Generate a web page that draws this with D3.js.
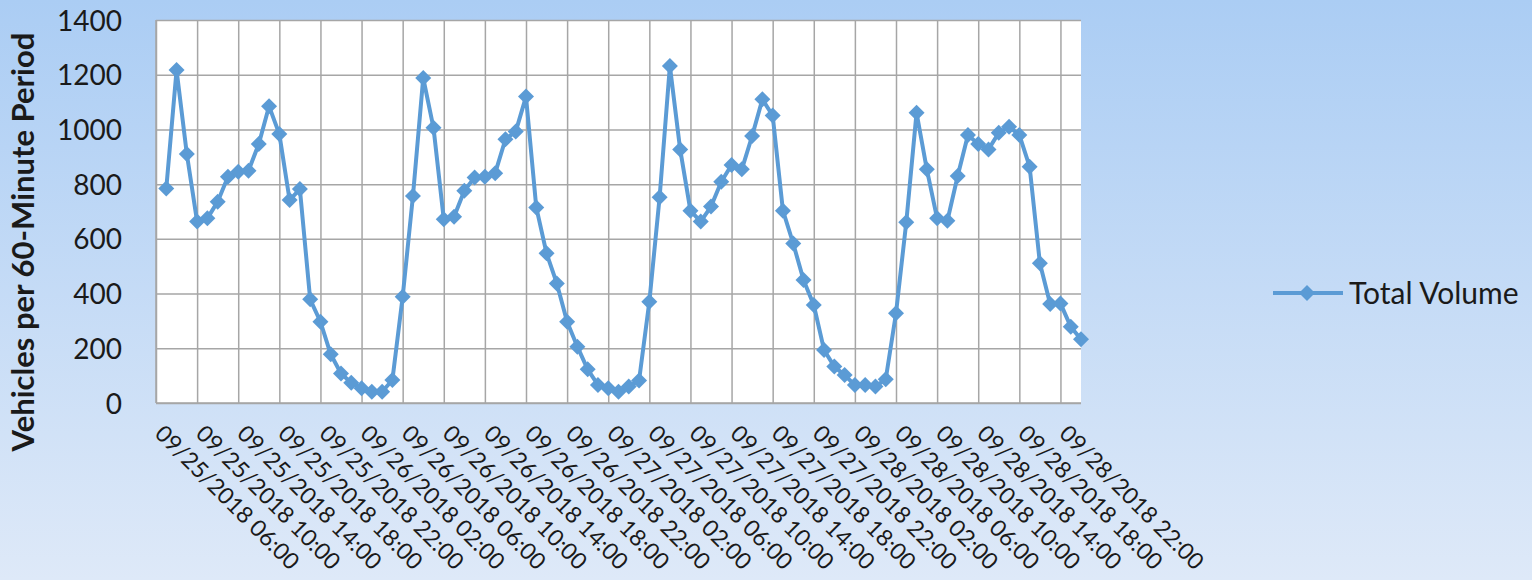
<!DOCTYPE html>
<html>
<head>
<meta charset="utf-8">
<script src="https://cdn.jsdelivr.net/npm/d3@7"></script>
<style>
  html, body { margin: 0; padding: 0; }
  body { width: 1532px; height: 580px; overflow: hidden; }
  svg { display: block; }
  text { font-family: Lato, "Open Sans", sans-serif; fill: #1a1a1a; }
</style>
</head>
<body>
<svg id="chart" width="1532" height="580"></svg>
<script>
// ---- data ----
const seriesName = "Total Volume";
const yTitle = "Vehicles per 60-Minute Period";
// hourly categories starting 09/25/2018 06:00 (91 slots; first slot has no reading)
const startHour = new Date(2018, 8, 25, 6);
const categories = d3.range(91).map(k => d3.timeHour.offset(startHour, k));
const values = [null,
  784, 1217, 910, 663, 675, 736, 827, 845, 849, 947,
  1085, 983, 742, 782, 379, 297, 178, 108, 74, 54,
  41, 41, 84, 388, 757, 1188, 1006, 672, 681, 776,
  824, 827, 840, 964, 992, 1120, 715, 547, 437, 297,
  206, 123, 66, 54, 41, 60, 82, 370, 752, 1232,
  927, 703, 663, 718, 809, 870, 854, 976, 1110, 1051,
  703, 583, 450, 358, 194, 133, 102, 66, 66, 60,
  87, 328, 661, 1061, 854, 675, 666, 830, 980, 947,
  927, 988, 1010, 980, 864, 511, 362, 364, 279, 233];
const tickLabels = [
  "09/25/2018 06:00", "09/25/2018 10:00", "09/25/2018 14:00", "09/25/2018 18:00",
  "09/25/2018 22:00", "09/26/2018 02:00", "09/26/2018 06:00", "09/26/2018 10:00",
  "09/26/2018 14:00", "09/26/2018 18:00", "09/26/2018 22:00", "09/27/2018 02:00",
  "09/27/2018 06:00", "09/27/2018 10:00", "09/27/2018 14:00", "09/27/2018 18:00",
  "09/27/2018 22:00", "09/28/2018 02:00", "09/28/2018 06:00", "09/28/2018 10:00",
  "09/28/2018 14:00", "09/28/2018 18:00", "09/28/2018 22:00"];
const yTicks = [0, 200, 400, 600, 800, 1000, 1200, 1400];
const labelEvery = 4;

// ---- layout ----
const W = 1532, H = 580;
const plot = { left: 156, right: 1081, top: 20, bottom: 403 };
const lineColor = "#5b9bd5";
const gridColor = "#a6a6a6";

const svg = d3.select("#chart");

// background gradient
const defs = svg.append("defs");
const grad = defs.append("linearGradient").attr("id", "bg")
  .attr("x1", 0).attr("y1", 0).attr("x2", 0).attr("y2", 1);
grad.append("stop").attr("offset", "0%").attr("stop-color", "#abcdf4");
grad.append("stop").attr("offset", "100%").attr("stop-color", "#dee9f8");
svg.append("rect").attr("width", W).attr("height", H).attr("fill", "url(#bg)");

const x = d3.scalePoint()
  .domain(d3.range(categories.length))
  .range([plot.left, plot.right]);
const y = d3.scaleLinear().domain([0, 1400]).range([plot.bottom, plot.top]);

// plot area
svg.append("rect")
  .attr("x", plot.left).attr("y", plot.top)
  .attr("width", plot.right - plot.left).attr("height", plot.bottom - plot.top)
  .attr("fill", "#ffffff");

// horizontal gridlines + y axis labels
const yAxis = d3.axisLeft(y).tickValues(yTicks).tickFormat(d3.format("d"))
  .tickSize(-(plot.right - plot.left)).tickPadding(34);
const gy = svg.append("g").attr("transform", `translate(${plot.left},0)`).call(yAxis);
gy.select(".domain").remove();
gy.selectAll(".tick line").attr("stroke", gridColor).attr("stroke-width", 1.5);
gy.selectAll(".tick text")
  .attr("font-size", 28).attr("fill", "#1a1a1a")
  .attr("font-family", "Lato, 'Open Sans', sans-serif")
  .attr("dy", "0.36em");

// vertical gridlines at every 4th category + labels
const labelIdx = d3.range(0, categories.length, labelEvery).slice(0, tickLabels.length);
const xAxis = d3.axisBottom(x).tickValues(labelIdx)
  .tickSize(-(plot.bottom - plot.top)).tickFormat((d, i) => tickLabels[i]);
const gx = svg.append("g").attr("transform", `translate(0,${plot.bottom})`).call(xAxis);
gx.select(".domain").remove();
gx.selectAll(".tick line").attr("stroke", gridColor).attr("stroke-width", 1.5);
gx.selectAll(".tick text")
  .attr("font-size", 23).attr("fill", "#1a1a1a")
  .attr("font-family", "Lato, 'Open Sans', sans-serif")
  .attr("text-anchor", "start")
  .attr("dy", null).attr("y", null)
  .attr("transform", "translate(-3,32) rotate(45)");

// axis lines (left + bottom)
svg.append("line").attr("x1", plot.left).attr("x2", plot.left)
  .attr("y1", plot.top).attr("y2", plot.bottom).attr("stroke", gridColor).attr("stroke-width", 1.5);
svg.append("line").attr("x1", plot.left).attr("x2", plot.right)
  .attr("y1", plot.bottom).attr("y2", plot.bottom).attr("stroke", gridColor).attr("stroke-width", 1.5);

// series line
const pts = values.map((v, i) => ({ i, v }));
const line = d3.line().defined(d => d.v != null).x(d => x(d.i)).y(d => y(d.v));
svg.append("path").datum(pts).attr("d", line)
  .attr("fill", "none").attr("stroke", lineColor).attr("stroke-width", 4)
  .attr("stroke-linejoin", "round");

const diamond = r => `M0,${-r}L${r},0L0,${r}L${-r},0Z`;
svg.append("g").selectAll("path").data(pts.filter(d => d.v != null)).join("path")
  .attr("d", diamond(8))
  .attr("transform", d => `translate(${x(d.i)},${y(d.v)})`)
  .attr("fill", lineColor);

// y title
svg.append("text")
  .attr("transform", "translate(34,242) rotate(-90)")
  .attr("text-anchor", "middle")
  .attr("font-size", 31).attr("font-weight", 700)
  .text(yTitle);

// legend
const lg = svg.append("g");
lg.append("line").attr("x1", 1273).attr("x2", 1343).attr("y1", 293).attr("y2", 293)
  .attr("stroke", lineColor).attr("stroke-width", 4);
lg.append("path").attr("d", diamond(8)).attr("transform", "translate(1307,293)").attr("fill", lineColor);
lg.append("text").attr("x", 1349).attr("y", 293).attr("dy", "0.36em")
  .attr("font-size", 30).text(seriesName);
</script>
</body>
</html>
